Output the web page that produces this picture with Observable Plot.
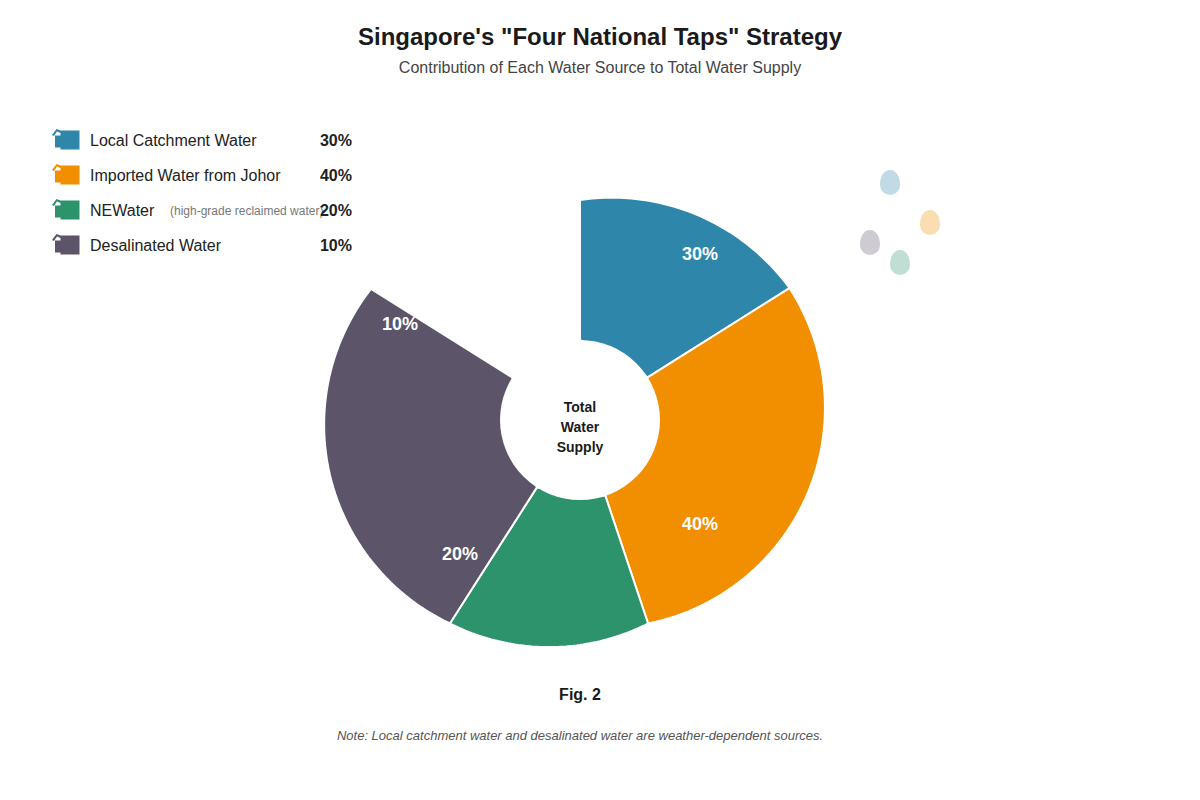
<!DOCTYPE html>
<html>
<head>
<meta charset="utf-8">
<script src="https://cdn.jsdelivr.net/npm/d3@7"></script>
<script src="https://cdn.jsdelivr.net/npm/@observablehq/plot@0.6"></script>
<style>
  html, body { margin: 0; padding: 0; background: #fff; }
  svg { display: block; }
</style>
</head>
<body>
<div id="chart"></div>
<script>
const sources = ["Local Catchment Water", "Imported Water from Johor", "NEWater", "Desalinated Water"];
const shares = [30, 40, 20, 10];
const notes = ["", "", "(high-grade reclaimed water)", ""];
const colours = ["#2E86AB", "#F18F01", "#2D936C", "#5C5569"];

// Slice geometry (degrees clockwise from north; pixels from the hub)
const boundaryAngles = [0, 57.8, 161.5, 212.6, 302.1];
const boundaryRadii = [220, 247.6, 214.6, 241.5, 246.7];
const arcRadius = 220;
const holeRadius = 80;
const hub = [580, 420];

const polar = (angle, r) => {
  const t = angle * Math.PI / 180;
  return [hub[0] + r * Math.sin(t), hub[1] - r * Math.cos(t)];
};

// The outer edge of a slice is an arc of fixed radius through its two corners
function arcBetween(a, b, R) {
  const mx = (a[0] + b[0]) / 2, my = (a[1] + b[1]) / 2;
  const dx = b[0] - a[0], dy = b[1] - a[1];
  const half = Math.hypot(dx, dy) / 2;
  const d = Math.sqrt(Math.max(0, R * R - half * half));
  const cx = mx - dy / (2 * half) * d, cy = my + dx / (2 * half) * d;
  const t0 = Math.atan2(a[1] - cy, a[0] - cx);
  let t1 = Math.atan2(b[1] - cy, b[0] - cx);
  if (t1 < t0) t1 += 2 * Math.PI;
  return d3.range(61).map(i => {
    const t = t0 + (t1 - t0) * i / 60;
    return [cx + R * Math.cos(t), cy + R * Math.sin(t)];
  });
}

const sliceRows = sources.flatMap((name, i) => {
  const a0 = boundaryAngles[i], a1 = boundaryAngles[i + 1];
  const outer = arcBetween(polar(a0, boundaryRadii[i]), polar(a1, boundaryRadii[i + 1]), arcRadius);
  return [polar(a0, holeRadius), ...outer, polar(a1, holeRadius), polar(a0, holeRadius)]
    .map(([x, y]) => ({name, x, y}));
});

// Symbols
const tapIcon = {
  draw(c) {
    // body with a lower-left step
    c.moveTo(-9.5, -9.5); c.lineTo(9.5, -9.5); c.lineTo(9.5, 9.5); c.lineTo(-9.5, 9.5);
    c.lineTo(-9.5, 7.5); c.lineTo(-15, 7.5); c.lineTo(-15, -4.5); c.lineTo(-9.5, -4.5);
    c.closePath();
    // spout hook above the step
    c.moveTo(-18, -5); c.lineTo(-13.5, -11); c.lineTo(-9.5, -9.5); c.lineTo(-9.5, -7);
    c.lineTo(-13, -8.5); c.lineTo(-16, -4);
    c.closePath();
  }
};
const dropIcon = {
  draw(c) {
    c.moveTo(0, -12.5);
    c.bezierCurveTo(6.5, -12.5, 10, -5.5, 10, 2.5);
    c.arc(0, 2.5, 10, 0, Math.PI);
    c.bezierCurveTo(-10, -5.5, -6.5, -12.5, 0, -12.5);
    c.closePath();
  }
};

const rowY = [140, 175, 210, 245];
const dropOrder = [0, 1, 3, 2];
const dropX = [890, 930, 870, 900];
const dropY = [182.5, 222.5, 242.5, 262.5];
const pctX = [700, 700, 460, 400];
const pctY = [254, 524, 554, 324];
const hubLines = ["Total", "Water", "Supply"];
const hubY = [407, 427, 447];

const font = "'Liberation Sans', Arial, sans-serif";
const txt = (str, x, y, o) => Plot.text([str], {x, y, dy: 0.5, text: d => d, fontFamily: font, stroke: "none", lineAnchor: "middle", ...o});
const idx = d3.range(sources.length);

const chart = Plot.plot({
  width: 1200, height: 800,
  margin: 0,
  style: {background: "#fff", fontFamily: font},
  x: {axis: null, domain: [0, 1200], range: [-0.5, 1199.5]},
  y: {axis: null, domain: [0, 800], range: [-0.5, 799.5]},
  color: {domain: sources, range: colours},
  marks: [
    // title block
    txt("Singapore's \"Four National Taps\" Strategy", 600, 37, {fontSize: 24, fontWeight: 700, fill: "#1a1a1a"}),
    txt("Contribution of Each Water Source to Total Water Supply", 600, 67, {fontSize: 16, fill: "#444"}),

    // decorative drops
    Plot.dot(dropOrder, {x: (_, j) => dropX[j], y: (_, j) => dropY[j], fill: i => sources[i], fillOpacity: 0.3, symbol: dropIcon, r: 10}),

    // doughnut
    Plot.line(sliceRows, {x: "x", y: "y", z: "name", fill: "name", stroke: "#fff", strokeWidth: 2, strokeLinejoin: "miter", curve: "linear"}),
    Plot.dot([0], {x: hub[0], y: hub[1], r: holeRadius, fill: "#fff", stroke: "none"}),
    Plot.text(hubLines, {x: hub[0], y: (_, i) => hubY[i], dy: 0.5, text: d => d, fontFamily: font, fontSize: 14, fontWeight: 700, fill: "#1a1a1a", lineAnchor: "middle"}),
    Plot.text(shares, {x: (_, i) => pctX[i], y: (_, i) => pctY[i], dy: 0.5, text: d => `${d}%`, fontFamily: font, fontSize: 18, fontWeight: 700, fill: "#fff", lineAnchor: "middle"}),

    // legend
    Plot.dot(idx, {x: 70, y: i => rowY[i], fill: i => sources[i], symbol: tapIcon, r: 10}),
    Plot.text(idx, {x: 90, y: i => rowY[i], dy: 0.5, text: i => sources[i], textAnchor: "start", fontFamily: font, fontSize: 16, fill: "#222", lineAnchor: "middle"}),
    Plot.text(idx, {x: 170, y: i => rowY[i] + 1, dy: 0.5, text: i => notes[i], textAnchor: "start", fontFamily: font, fontSize: 12, fill: "#777", lineAnchor: "middle"}),
    Plot.text(idx, {x: 352, y: i => rowY[i], dy: 0.5, text: i => `${shares[i]}%`, textAnchor: "end", fontFamily: font, fontSize: 16, fontWeight: 700, fill: "#222", lineAnchor: "middle"}),

    // captions
    txt("Fig. 2", 580, 694, {fontSize: 16, fontWeight: 700, fill: "#1a1a1a"}),
    txt("Note: Local catchment water and desalinated water are weather-dependent sources.", 580, 735, {fontSize: 13, fontStyle: "italic", fill: "#555"})
  ]
});
document.getElementById("chart").appendChild(chart);
</script>
</body>
</html>
